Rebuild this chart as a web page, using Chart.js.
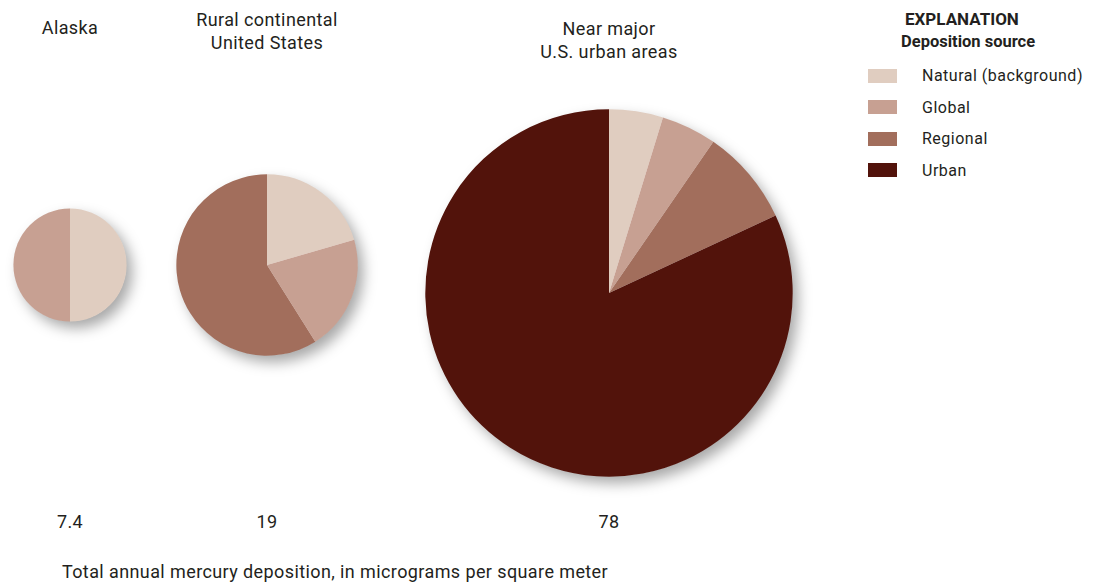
<!DOCTYPE html>
<html>
<head>
<meta charset="utf-8">
<script src="https://cdn.jsdelivr.net/npm/chart.js@4"></script>
<style>
  body { margin: 0; background: #fff; }
  #wrap { position: relative; width: 1098px; height: 583px; overflow: hidden;
          font-family: 'Liberation Sans Narrow', 'Roboto', sans-serif; color: #231f20; }
  .lbl { position: absolute; font-size: 18px; letter-spacing: 0.4px; text-align: center; line-height: 23px; white-space: nowrap; transform: translateX(-50%); }
  .pie { position: absolute; }
  #legend { position: absolute; left: 868px; top: 9px; font-size: 16px; letter-spacing: 0.5px; }
  #legend .head { font-weight: bold; font-size: 17px; letter-spacing: 0; margin-left: 37px; }
  #legend .sub { font-weight: bold; font-size: 16.5px; letter-spacing: 0; margin-left: 33px; margin-top: 3px; margin-bottom: 9px; }
  #legend .row { height: 31.5px; display: flex; align-items: center; }
  #legend .sw { width: 29px; height: 14px; margin-right: 25px; }
</style>
</head>
<body>
<div id="wrap"></div>
<script>
const sources = ['Natural (background)', 'Global', 'Regional', 'Urban'];
const colors = ['#e0cdc0', '#c7a092', '#a26e5c', '#52130b'];
const regions = [['Alaska'], ['Rural continental', 'United States'], ['Near major', 'U.S. urban areas']];
const totals = [7.4, 19, 78];
const alaska = [3.7, 3.7, 0, 0];
const rural = [3.9, 3.9, 11.2, 0];
const urban = [3.7, 3.8, 6.6, 63.9];
const xTitle = 'Total annual mercury deposition, in micrograms per square meter';

const wrap = document.getElementById('wrap');
const centers = [[70, 265], [267, 265], [609, 293]];
const titleTops = [16, 8, 17];
const seriesList = [alaska, rural, urban];
const pxPerRoot = 20.8; // circle area proportional to total

const shadow = {
  id: 'shadow',
  beforeDatasetsDraw(chart) {
    const arc = chart.getDatasetMeta(0).data[0];
    const c = chart.ctx;
    c.save();
    c.shadowColor = 'rgba(0,0,0,0.35)';
    c.shadowBlur = 14;
    c.shadowOffsetX = 6;
    c.shadowOffsetY = 7;
    c.fillStyle = '#fff';
    c.beginPath();
    c.arc(arc.x, arc.y, arc.outerRadius - 0.5, 0, Math.PI * 2);
    c.fill();
    c.restore();
  }
};

seriesList.forEach(function (vals, i) {
  const r = pxPerRoot * Math.sqrt(totals[i]);
  const size = Math.ceil(2 * r + 60);
  const [cx, cy] = centers[i];
  const box = document.createElement('div');
  box.className = 'pie';
  box.style.left = (cx - size / 2) + 'px';
  box.style.top = (cy - size / 2) + 'px';
  box.style.width = size + 'px';
  box.style.height = size + 'px';
  const cv = document.createElement('canvas');
  box.appendChild(cv);
  wrap.appendChild(box);

  new Chart(cv.getContext('2d'), {
    type: 'pie',
    data: {
      labels: sources,
      datasets: [{
        data: vals,
        backgroundColor: colors,
        borderWidth: 0,
        radius: r
      }]
    },
    options: {
      responsive: true,
      maintainAspectRatio: false,
      animation: false,
      plugins: { legend: { display: false }, tooltip: { enabled: false } }
    },
    plugins: [shadow]
  });

  const t = document.createElement('div');
  t.className = 'lbl';
  t.style.left = cx + 'px';
  t.style.top = titleTops[i] + 'px';
  t.innerHTML = regions[i].join('<br>');
  wrap.appendChild(t);

  const n = document.createElement('div');
  n.className = 'lbl';
  n.style.left = cx + 'px';
  n.style.top = '510px';
  n.textContent = String(totals[i]);
  wrap.appendChild(n);
});

const xt = document.createElement('div');
xt.className = 'lbl';
xt.style.left = '335px';
xt.style.top = '560px';
xt.textContent = xTitle;
wrap.appendChild(xt);

const lg = document.createElement('div');
lg.id = 'legend';
let html = '<div class="head">EXPLANATION</div><div class="sub">Deposition source</div>';
sources.forEach(function (s, i) {
  html += '<div class="row"><span class="sw" style="background:' + colors[i] + '"></span>' + s + '</div>';
});
lg.innerHTML = html;
wrap.appendChild(lg);
</script>
</body>
</html>
